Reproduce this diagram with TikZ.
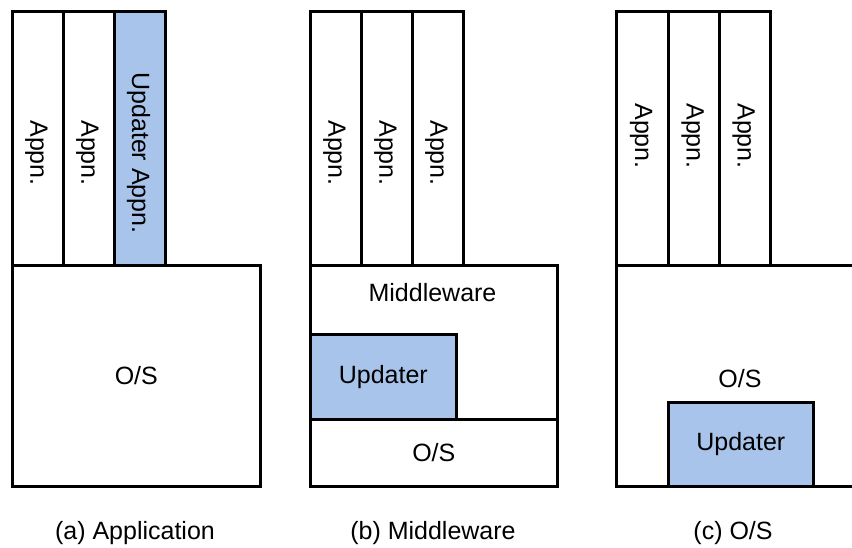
\documentclass[tikz,border=0pt]{standalone}
\usepackage{fontspec}
\setmainfont{Liberation Sans}
\definecolor{upd}{HTML}{A9C4EB}
\begin{document}
\begin{tikzpicture}[x=1pt,y=-1pt,
  box/.style={draw=black,line width=2.6pt,fill=white,inner sep=0pt,anchor=north west,font=\fontsize{25}{29}\selectfont},
  updbox/.style={box,fill=upd},
  vtext/.style={rotate=-90,inner sep=0pt,font=\fontsize{25}{29}\selectfont},
  caption/.style={inner sep=0pt,anchor=base,font=\fontsize{25}{29}\selectfont}]
\useasboundingbox (0,0) rectangle (852,547);
\clip (0,0) rectangle (852,547);

% (a) updater as an application
\node[box,minimum width=51pt,minimum height=254pt] (a1) at (11,10) {};
\node[box,minimum width=51pt,minimum height=254pt] (a2) at (62,10) {};
\node[updbox,minimum width=51pt,minimum height=254pt] (a3) at (113,10) {};
\node[box,minimum width=248pt,minimum height=221pt] (aos) at (11,264) {O/S};
\node[vtext] (a1t) at (36.5,153) {Appn.};
\node[vtext] (a2t) at (87.5,153) {Appn.};
\node[vtext] (a3t) at (138.5,153) {Updater Appn.};
\node[caption] (capa) at (135,539) {(a) Application};

% (b) updater inside the middleware
\node[box,minimum width=51pt,minimum height=254pt] (b1) at (309,10) {};
\node[box,minimum width=51pt,minimum height=254pt] (b2) at (360,10) {};
\node[box,minimum width=51pt,minimum height=254pt] (b3) at (411,10) {};
\node[box,minimum width=247pt,minimum height=154pt] (bmw) at (309,264) {};
\node[caption] (bmwt) at (432.5,301) {Middleware};
\node[updbox,minimum width=146pt,minimum height=85pt] (bup) at (309,333) {Updater};
\node[box,minimum width=247pt,minimum height=67pt] (bos) at (309,418) {O/S};
\node[vtext] (b1t) at (334.5,153) {Appn.};
\node[vtext] (b2t) at (385.5,153) {Appn.};
\node[vtext] (b3t) at (436.5,153) {Appn.};
\node[caption] (capb) at (433,539) {(b) Middleware};

% (c) updater inside the O/S
\node[box,minimum width=52pt,minimum height=254pt] (c1) at (615,10) {};
\node[box,minimum width=51pt,minimum height=254pt] (c2) at (667,10) {};
\node[box,minimum width=51pt,minimum height=254pt] (c3) at (718,10) {};
\node[box,minimum width=260pt,minimum height=221pt] (cos) at (615,264) {};
\node[caption] (cost) at (740,387) {O/S};
\node[updbox,minimum width=145pt,minimum height=84pt] (cup) at (667,401) {Updater};
\node[vtext] (c1t) at (641,136) {Appn.};
\node[vtext] (c2t) at (692.5,136) {Appn.};
\node[vtext] (c3t) at (743.5,136) {Appn.};
\node[caption] (capc) at (733,539) {(c) O/S};
\end{tikzpicture}
\end{document}
